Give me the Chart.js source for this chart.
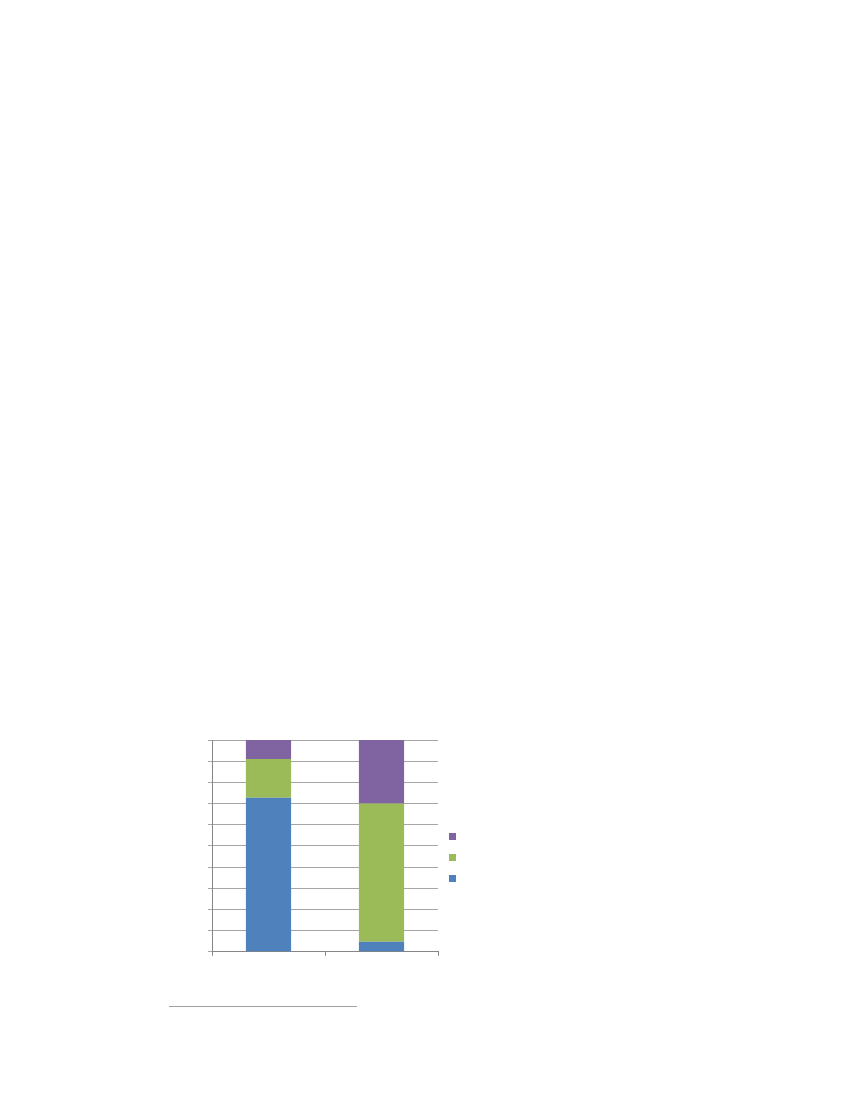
<!DOCTYPE html>
<html><head><meta charset="utf-8">
<script src="https://cdn.jsdelivr.net/npm/chart.js@4"></script>
<style>
html,body{margin:0;padding:0;background:#fff;width:850px;height:1100px;overflow:hidden;font-family:"Liberation Sans",Arial,sans-serif;}
#wrap{position:absolute;left:208px;top:727px;width:263px;height:248px;}
#rule{position:absolute;left:169px;top:1006px;width:188px;height:0;border-top:1px solid #a0a0a0;}
</style></head>
<body>
<div id="wrap"><canvas id="c"></canvas></div>
<div id="rule"></div>
<script>
const categories = ["", ""];
const seriesNames = ["", "", ""];
const blueValues = [72.7, 4.7];
const greenValues = [18.3, 65.3];
const purpleValues = [9.0, 30.0];
const yTicks = [0,10,20,30,40,50,60,70,80,90,100];

new Chart(document.getElementById('c'), {
  type: 'bar',
  data: {
    labels: categories,
    datasets: [
      {label: seriesNames[0], data: blueValues, backgroundColor: '#4f81bd'},
      {label: seriesNames[1], data: greenValues, backgroundColor: '#9bbb59'},
      {label: seriesNames[2], data: purpleValues, backgroundColor: '#8064a2'}
    ]
  },
  options: {
    responsive: true,
    maintainAspectRatio: false,
    animation: false,
    layout: {padding: {top: 13, bottom: 0, left: 0, right: 0}},
    datasets: {bar: {barPercentage: 0.4, categoryPercentage: 1, borderWidth: 0}},
    plugins: {
      legend: {
        position: 'right',
        reverse: true,
        labels: {boxWidth: 7, boxHeight: 7, padding: 11, font: {size: 10}, color: '#000'}
      },
      tooltip: {enabled: false}
    },
    scales: {
      x: {
        stacked: true,
        offset: true,
        grid: {offset: true, drawOnChartArea: false, drawTicks: true, tickLength: 4, color: '#868686'},
        border: {display: true, color: '#868686'},
        ticks: {display: true, font: {size: 11}, callback: () => ''}
      },
      y: {
        stacked: true,
        min: 0, max: 100,
        afterBuildTicks: (axis) => { axis.ticks = yTicks.map(v => ({value: v})); },
        grid: {color: '#a6a6a6', tickLength: 4, drawTicks: true},
        border: {display: true, color: '#868686'},
        ticks: {callback: () => '', padding: 0}
      }
    }
  }
});
</script>
</body></html>
